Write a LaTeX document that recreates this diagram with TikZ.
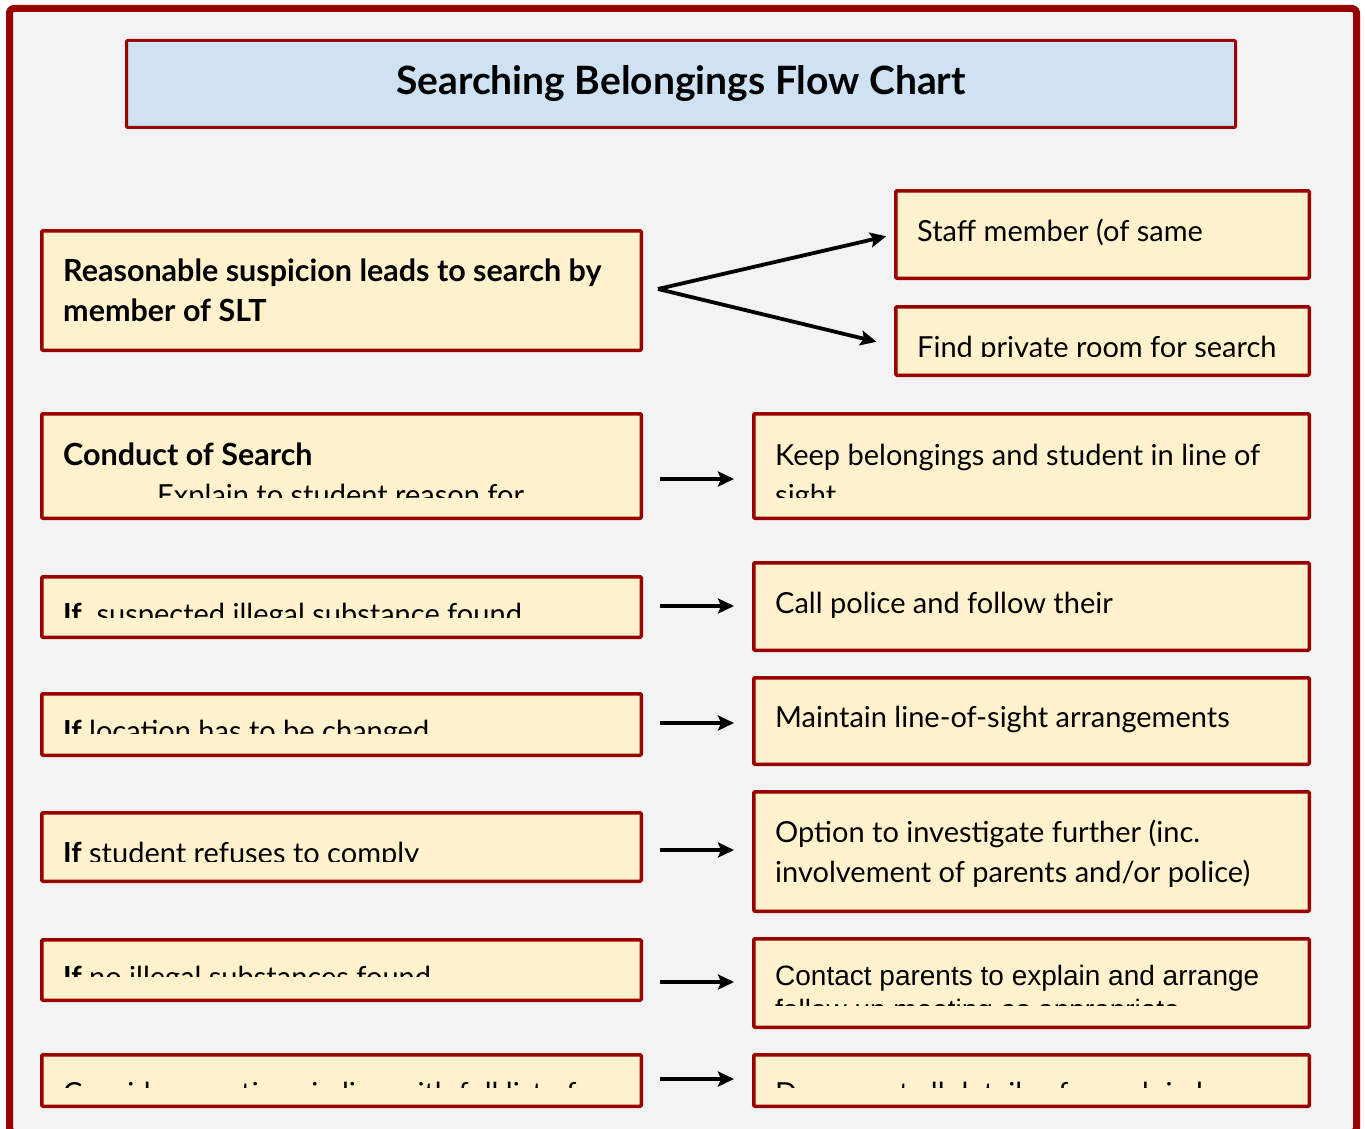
\documentclass[tikz,border=0pt]{standalone}
\usepackage{fontspec}
\setmainfont{Lato}
\newfontfamily\arialf{Liberation Sans}
\usetikzlibrary{arrows.meta}
\definecolor{dred}{HTML}{990000}
\definecolor{cream}{HTML}{FFF2CC}
\definecolor{sky}{HTML}{CFE2F3}
\definecolor{paper}{HTML}{F3F3F3}
\begin{document}
\begin{tikzpicture}[x=1pt, y=-1pt, line join=round, >={Stealth[length=16pt, width=15pt, inset=3pt]},
  box/.style={draw=dred, line width=3.5pt, fill=cream, anchor=north west, inner sep=0pt, rounded corners=1pt},
  txt/.style={anchor=base west, inner sep=0pt, align=left, font=\fontsize{29}{40}\selectfont},
  bld/.style={txt, font=\fontsize{30.5}{40}\selectfont\bfseries},
  arr/.style={->, line width=3.8pt}]
\useasboundingbox (0,0) rectangle (1365,1129);
\clip (0,0) rectangle (1365,1129);
\fill[white] (0,0) rectangle (1365,1129);
% outer frame
\draw[draw=dred, line width=7pt, fill=paper, rounded corners=4pt] (9.5,8.5) rectangle (1356.5,1132.5);
% title
\node[box, fill=sky, line width=3pt, minimum width=1109pt, minimum height=87pt,
  font=\fontsize{39}{40}\selectfont\bfseries] (title) at (125,39) {Searching Belongings Flow Chart};

% left column (multi-line nodes sit on their last baseline)
\node[box, minimum width=599.5pt, minimum height=119.5pt] (l1) at (40,229) {};
\node[bld] (t1) at (63,321) {Reasonable suspicion leads to search by\\member of SLT};
\node[box, minimum width=599.5pt, minimum height=104.5pt] (l2) at (40,412) {};
\node[box, minimum width=599.5pt, minimum height=60.5pt] (l3) at (40,575) {};
\node[box, minimum width=599.5pt, minimum height=61.5pt] (l4) at (40,692) {};
\node[box, minimum width=599.5pt, minimum height=68.5pt] (l5) at (40,811) {};
\node[box, minimum width=599.5pt, minimum height=60.5pt] (l6) at (40,938) {};
\node[box, minimum width=599.5pt, minimum height=51.5pt] (l7) at (40,1053) {};
\begin{scope}
  \clip (40,412) rectangle (641,497);
  \node[txt] (t2) at (63,505) {\fontsize{30.5}{40}\selectfont\bfseries Conduct of Search\\\hspace*{94pt}Explain to student reason for};
\end{scope}
\begin{scope}
  \clip (40,575) rectangle (641,617);
  \node[txt] (t3) at (63,624) {\textbf{If} \ suspected illegal substance found};
\end{scope}
\begin{scope}
  \clip (40,692) rectangle (641,733);
  \node[txt] (t4) at (63,741) {\textbf{If} location has to be changed};
\end{scope}
\begin{scope}
  \clip (40,811) rectangle (641,861);
  \node[txt] (t5) at (63,863) {\textbf{If} student refuses to comply};
\end{scope}
\begin{scope}
  \clip (40,938) rectangle (641,976);
  \node[txt] (t6) at (63,987) {\textbf{If} no illegal substances found};
\end{scope}
\begin{scope}
  \clip (40,1053) rectangle (641,1087);
  \node[txt] (t7) at (63,1103) {Consider sanctions in line with full list of};
\end{scope}

% right column
\node[box, minimum width=413.5pt, minimum height=87.5pt] (r1) at (894,189) {};
\node[txt] (s1) at (917,241) {Staff member (of same};
\node[box, minimum width=413.5pt, minimum height=68.5pt] (r2) at (894,305) {};
\begin{scope}
  \clip (894,305) rectangle (1309,356);
  \node[txt] (s2) at (917,357) {Find private room for search};
\end{scope}
\node[box, minimum width=555.5pt, minimum height=104.5pt] (r3) at (752,412) {};
\begin{scope}
  \clip (752,412) rectangle (1309,497);
  \node[txt] (s3) at (775,505) {Keep belongings and student in line of\\sight};
\end{scope}
\node[box, minimum width=555.5pt, minimum height=87.5pt] (r4) at (752,561) {};
\node[txt] (s4) at (775,613) {Call police and follow their};
\node[box, minimum width=555.5pt, minimum height=86.5pt] (r5) at (752,676) {};
\node[txt] (s5) at (775,727) {Maintain line-of-sight arrangements};
\node[box, minimum width=555.5pt, minimum height=119.5pt] (r6) at (752,790) {};
\node[txt] (s6) at (775,882) {Option to investigate further (inc.\\involvement of parents and/or police)};
\node[box, minimum width=555.5pt, minimum height=88.5pt] (r7) at (752,937) {};
\begin{scope}
  \clip (752,937) rectangle (1309,1005);
  \node[txt, font=\fontsize{28}{34}\arialf] (s7) at (775,1019) {Contact parents to explain and arrange\\follow up meeting as appropriate};
\end{scope}
\node[box, minimum width=555.5pt, minimum height=51.5pt] (r8) at (752,1053) {};
\begin{scope}
  \clip (752,1053) rectangle (1309,1087);
  \node[txt] (s8) at (775,1103) {Document all details of search in log};
\end{scope}

% connectors
\coordinate (fk) at (658,289);
\draw[arr, shorten >=8pt] (fk) -- (r1.west);
\draw[arr, shorten >=18pt] (fk) -- ([yshift=-5pt]r2.west);
\foreach \a/\b/\y in {l2/r3/479, l3/r4/606, l4/r5/723, l5/r6/850, l6/r7/982, l7/r8/1079}
  \draw[arr, shorten <=17pt, shorten >=18pt] (\a.east |- 0,\y) -- (\b.west |- 0,\y);
\end{tikzpicture}
\end{document}
